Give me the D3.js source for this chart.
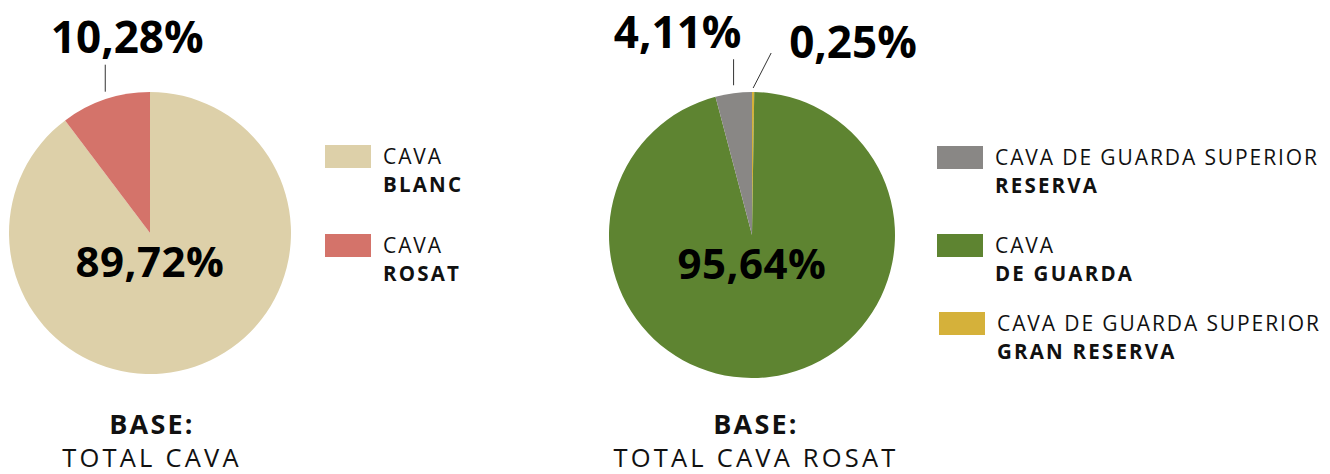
<!DOCTYPE html>
<html>
<head>
<meta charset="utf-8">
<script src="https://cdn.jsdelivr.net/npm/d3@7"></script>
<style>
  body { margin: 0; background: #fff; }
  svg { font-family: "Open Sans", sans-serif; }
</style>
</head>
<body>
<div id="chart"></div>
<script>
// data
var leftNames = ["CAVA BLANC", "CAVA ROSAT"];
var leftValues = [89.72, 10.28];
var leftColors = ["#ddd0a9", "#d4736a"];

var rightNames = ["CAVA DE GUARDA SUPERIOR GRAN RESERVA", "CAVA DE GUARDA", "CAVA DE GUARDA SUPERIOR RESERVA"];
var rightValues = [0.25, 95.64, 4.11];
var rightColors = ["#d5b13a", "#5e8431", "#898785"];

var leftLegend = [["CAVA", "BLANC", 0], ["CAVA", "ROSAT", 1]];
var rightLegend = [["CAVA DE GUARDA SUPERIOR", "RESERVA", 2], ["CAVA", "DE GUARDA", 1], ["CAVA DE GUARDA SUPERIOR", "GRAN RESERVA", 0]];

var leftBase = ["BASE:", "TOTAL CAVA"];
var rightBase = ["BASE:", "TOTAL CAVA ROSAT"];

var fmt = function(v) { return d3.format(".2f")(v).replace(".", ",") + "%"; };

var width = 1330, height = 474;
var svg = d3.select("#chart").append("svg")
  .attr("width", width)
  .attr("height", height);

function drawPie(opt) {
  var g = svg.append("g")
    .attr("transform", "translate(" + opt.cx + "," + opt.cy + ")");
  var pie = d3.pie().sort(null).value(function(d) { return d; });
  var arcs = pie(opt.values);
  var arc = d3.arc().innerRadius(0).outerRadius(opt.r);

  g.selectAll("path")
    .data(arcs)
    .enter().append("path")
      .attr("d", arc)
      .attr("fill", function(d, i) { return opt.colors[i]; });

  // big label in the middle for the largest slice
  var big = d3.maxIndex(opt.values);
  g.append("text")
    .attr("x", 0)
    .attr("y", 44)
    .attr("text-anchor", "middle")
    .attr("font-size", 42)
    .attr("font-weight", 700)
    .attr("letter-spacing", 0.5)
    .attr("fill", "#000")
    .text(fmt(opt.values[big]));

  // outside labels with leader lines
  opt.callouts.forEach(function(c) {
    var a = arcs[c.i];
    var mid = (a.startAngle + a.endAngle) / 2;
    var sx = (opt.r + c.gap) * Math.sin(mid);
    var sy = -(opt.r + c.gap) * Math.cos(mid);
    if (c.vertical) sx = opt.r * Math.sin(mid);
    var ex = sx + c.dx, ey = sy - c.len;
    g.append("line")
      .attr("x1", sx).attr("y1", sy)
      .attr("x2", ex).attr("y2", ey)
      .attr("stroke", "#333")
      .attr("stroke-width", 1);
    g.append("text")
      .attr("x", ex + c.tx)
      .attr("y", ey + c.ty)
      .attr("text-anchor", c.anchor)
      .attr("font-size", 44)
      .attr("font-weight", 700)
      .attr("fill", "#000")
      .text(fmt(opt.values[c.i]));
  });

  // legend
  var lg = svg.append("g")
    .attr("transform", "translate(" + opt.lx + "," + opt.ly + ")");
  opt.legend.forEach(function(d, k) {
    var y0 = opt.lstep[k];
    lg.append("rect")
      .attr("x", opt.sx[k]).attr("y", y0)
      .attr("width", 46).attr("height", 23)
      .attr("fill", opt.colors[d[2]]);
    lg.append("text")
      .attr("x", opt.sx[k] + 58).attr("y", y0 + 19)
      .attr("font-size", 21)
      .attr("letter-spacing", 1.9)
      .attr("fill", "#111")
      .text(d[0]);
    lg.append("text")
      .attr("x", opt.sx[k] + 58).attr("y", y0 + 47)
      .attr("font-size", 20.5)
      .attr("font-weight", 700)
      .attr("letter-spacing", 2.2)
      .attr("fill", "#111")
      .text(d[1]);
  });

  // base caption
  svg.append("text")
    .attr("x", opt.bx).attr("y", 434)
    .attr("text-anchor", "middle")
    .attr("font-size", 27)
    .attr("font-weight", 700)
    .attr("letter-spacing", 2.2)
    .attr("fill", "#111")
    .text(opt.base[0]);
  svg.append("text")
    .attr("x", opt.bx).attr("y", 467)
    .attr("text-anchor", "middle")
    .attr("font-size", 25.5)
    .attr("letter-spacing", 3.2)
    .attr("fill", "#111")
    .text(opt.base[1]);
}

drawPie({
  cx: 150, cy: 233, r: 141,
  values: leftValues, colors: leftColors,
  callouts: [{ i: 1, gap: 8, vertical: true, dx: 0, len: 27, tx: 22, ty: -12, anchor: "middle" }],
  lx: 325, ly: 145, sx: [0, 0], lstep: [0, 89],
  legend: leftLegend,
  bx: 152, base: leftBase
});

drawPie({
  cx: 752, cy: 235, r: 143,
  values: rightValues, colors: rightColors,
  callouts: [
    { i: 2, gap: 8, vertical: true, dx: 0, len: 26, tx: -56, ty: -11, anchor: "middle" },
    { i: 0, gap: 4, vertical: false, dx: 18, len: 35, tx: 18, ty: 5, anchor: "start" }
  ],
  lx: 937, ly: 146, sx: [0, 0, 2], lstep: [0, 88, 166],
  legend: rightLegend,
  bx: 756, base: rightBase
});
</script>
</body>
</html>
